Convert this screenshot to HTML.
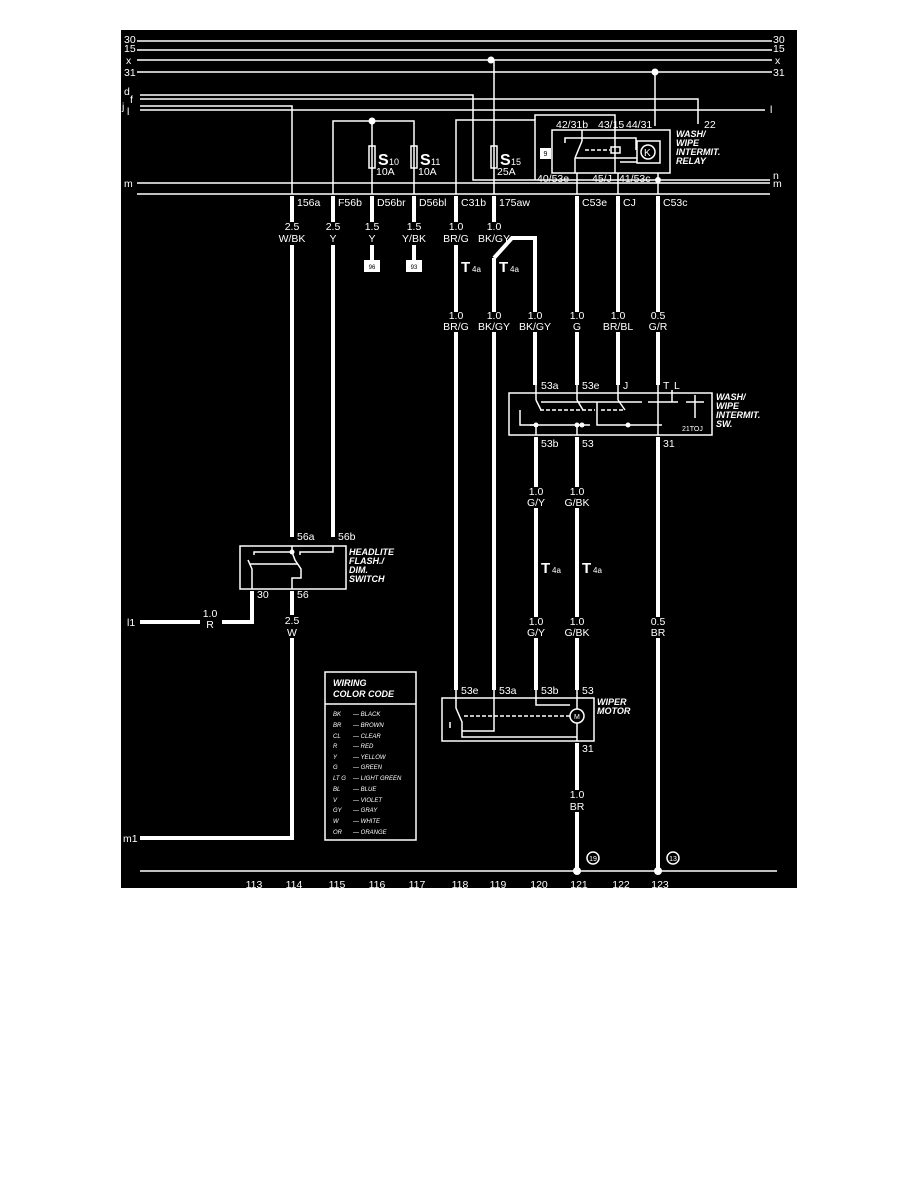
<!DOCTYPE html>
<html><head><meta charset="utf-8"><style>
html,body{margin:0;padding:0;background:#fff;}
svg{display:block;}
text{font-family:"Liberation Sans",sans-serif;fill:#fff;font-size:10.5px;}
.i{font-style:italic;font-weight:bold;font-size:9px;}
.s{font-size:6px;font-style:italic;}
</style></head><body>
<svg width="918" height="1188" viewBox="0 0 918 1188" xmlns="http://www.w3.org/2000/svg">
<rect x="0" y="0" width="918" height="1188" fill="#fff"/>
<rect x="121" y="30" width="676" height="858" fill="#000"/>
<g stroke="#fff" fill="none" stroke-width="1.5">
<!-- bus lines -->
<line x1="137" y1="41" x2="772" y2="41"/>
<line x1="137" y1="50" x2="772" y2="50"/>
<line x1="137" y1="60" x2="772" y2="60"/>
<line x1="137" y1="72" x2="772" y2="72"/>
<polyline points="140,95 473,95 473,180 770,180"/>
<polyline points="140,99 698,99 698,124"/>
<polyline points="140,106 292,106 292,194"/>
<line x1="140" y1="110" x2="765" y2="110"/>
<polyline points="456,194 456,120 535,120 535,180"/>
<polyline points="535,120 535,115 615,115 615,126"/>
<line x1="137" y1="183" x2="770" y2="183"/>
<line x1="137" y1="194" x2="770" y2="194"/>
<!-- fuses -->
<polyline points="333,194 333,121 414,121 414,194"/>
<line x1="372" y1="121" x2="372" y2="194"/>
<line x1="494" y1="60" x2="494" y2="194"/>
<line x1="655" y1="72" x2="655" y2="126"/>
<line x1="577" y1="173" x2="577" y2="194"/>
<line x1="618" y1="173" x2="618" y2="194"/>
<line x1="658" y1="173" x2="658" y2="194"/>
<rect x="369" y="146" width="6" height="22"/>
<rect x="411" y="146" width="6" height="22"/>
<rect x="491" y="146" width="6" height="22"/>
<!-- relay -->
<rect x="552" y="130" width="118" height="43"/>
<rect x="637" y="141" width="23" height="22"/>
<circle cx="648" cy="152" r="7"/>
<polyline points="565,143 565,138 636,138 636,150"/>
<line x1="582" y1="130" x2="582" y2="141"/>
<line x1="582" y1="141" x2="575" y2="158"/>
<line x1="575" y1="158" x2="575" y2="173"/>
<line x1="575" y1="158" x2="637" y2="158"/>
<line x1="585" y1="150" x2="610" y2="150" stroke-dasharray="4,2"/>
<rect x="611" y="147" width="9" height="6"/>
<line x1="615" y1="126" x2="615" y2="173"/>
<polyline points="620,162 637,162"/>
<!-- switch box -->
<rect x="509" y="393" width="203" height="42"/>
<line x1="536" y1="385" x2="536" y2="400"/>
<line x1="536" y1="400" x2="541" y2="410"/>
<line x1="577" y1="385" x2="577" y2="400"/>
<line x1="577" y1="400" x2="583" y2="410"/>
<line x1="618" y1="385" x2="618" y2="400"/>
<line x1="618" y1="400" x2="625" y2="410"/>
<line x1="541" y1="402" x2="642" y2="402"/>
<line x1="540" y1="410" x2="595" y2="410" stroke-dasharray="4,2"/>
<line x1="601" y1="410" x2="625" y2="410" stroke-dasharray="4,2"/>
<polyline points="520,410 520,425 536,425 536,435"/>
<line x1="530" y1="425" x2="590" y2="425"/>
<line x1="577" y1="425" x2="577" y2="435"/>
<polyline points="597,402 597,425 662,425"/>
<line x1="648" y1="402" x2="678" y2="402"/>
<line x1="658" y1="385" x2="658" y2="402"/>
<line x1="672" y1="390" x2="672" y2="402"/>
<line x1="658" y1="402" x2="658" y2="435"/>
<line x1="686" y1="402" x2="704" y2="402"/>
<line x1="695" y1="395" x2="695" y2="418"/>
<!-- headlight switch -->
<rect x="240" y="546" width="106" height="43"/>
<polyline points="252,589 252,569 248,560"/>
<line x1="250" y1="564" x2="298" y2="564"/>
<polyline points="254,555 254,552 292,552 292,546"/>
<polyline points="292,552 295,560 301,569 301,578 292,578 292,589"/>
<polyline points="300,555 300,552 333,552 333,546"/>
<!-- legend -->
<rect x="325" y="672" width="91" height="168"/>
<line x1="325" y1="704" x2="416" y2="704"/>
<!-- wiper motor -->
<rect x="442" y="698" width="152" height="43"/>
<polyline points="456,690 456,708 462,722 462,737 577,737"/>
<polyline points="450,728 450,722"/>
<polyline points="494,690 494,731 462,731"/>
<polyline points="536,690 536,705 570,705"/>
<line x1="464" y1="716" x2="570" y2="716" stroke-dasharray="4,2"/>
<circle cx="577" cy="716" r="7"/>
<line x1="577" y1="690" x2="577" y2="709"/>
<line x1="577" y1="723" x2="577" y2="741"/>
<!-- ground -->
<line x1="140" y1="871" x2="777" y2="871"/>
<circle cx="593" cy="858" r="6"/>
<circle cx="673" cy="858" r="6"/>
</g>
<!-- thick wires -->
<g stroke="#fff" stroke-width="4" fill="none">
<line x1="292" y1="196" x2="292" y2="222"/><line x1="292" y1="245" x2="292" y2="537"/>
<line x1="333" y1="196" x2="333" y2="222"/><line x1="333" y1="245" x2="333" y2="537"/>
<line x1="372" y1="196" x2="372" y2="222"/><line x1="372" y1="245" x2="372" y2="260"/>
<line x1="414" y1="196" x2="414" y2="222"/><line x1="414" y1="245" x2="414" y2="260"/>
<line x1="456" y1="196" x2="456" y2="222"/><line x1="456" y1="245" x2="456" y2="312"/><line x1="456" y1="332" x2="456" y2="690"/>
<line x1="494" y1="196" x2="494" y2="222"/><line x1="494" y1="258" x2="494" y2="312"/><line x1="494" y1="332" x2="494" y2="690"/>
<polyline points="494,258 512,238 535,238 535,312"/><line x1="535" y1="332" x2="535" y2="385"/>
<line x1="577" y1="196" x2="577" y2="312"/><line x1="577" y1="332" x2="577" y2="385"/>
<line x1="618" y1="196" x2="618" y2="312"/><line x1="618" y1="332" x2="618" y2="385"/>
<line x1="658" y1="196" x2="658" y2="312"/><line x1="658" y1="332" x2="658" y2="385"/>
<line x1="536" y1="437" x2="536" y2="487"/><line x1="536" y1="508" x2="536" y2="617"/><line x1="536" y1="638" x2="536" y2="690"/>
<line x1="577" y1="437" x2="577" y2="487"/><line x1="577" y1="508" x2="577" y2="617"/><line x1="577" y1="638" x2="577" y2="690"/>
<line x1="658" y1="437" x2="658" y2="617"/><line x1="658" y1="638" x2="658" y2="871"/>
<line x1="577" y1="743" x2="577" y2="790"/><line x1="577" y1="812" x2="577" y2="871"/>
<polyline points="252,591 252,622 222,622"/><line x1="200" y1="622" x2="140" y2="622"/>
<line x1="292" y1="591" x2="292" y2="615"/><polyline points="292,638 292,838 140,838"/>
</g>
<g fill="#fff">
<circle cx="491" cy="60" r="3.5"/><circle cx="655" cy="72" r="3.5"/><circle cx="372" cy="121" r="3.5"/>
<circle cx="658" cy="180" r="3"/><circle cx="577" cy="871" r="4"/><circle cx="658" cy="871" r="4"/>
<circle cx="536" cy="425" r="2.5"/><circle cx="577" cy="425" r="2.5"/><circle cx="582" cy="425" r="2.5"/><circle cx="628" cy="425" r="2.5"/>
<circle cx="292" cy="552" r="2.5"/>
<rect x="364" y="260" width="16" height="12"/><rect x="406" y="260" width="16" height="12"/>
<rect x="540" y="148" width="11" height="11"/>
</g>
<g font-size="6" text-anchor="middle">
<text x="372" y="269" style="fill:#000;font-size:6px">96</text>
<text x="414" y="269" style="fill:#000;font-size:6px">93</text>
<text x="545.5" y="156" style="fill:#000;font-size:7px">9</text>
</g>
<!-- bus labels -->
<text x="124" y="43">30</text><text x="124" y="52">15</text><text x="126" y="64">x</text><text x="124" y="76">31</text>
<text x="773" y="43">30</text><text x="773" y="52">15</text><text x="775" y="64">x</text><text x="773" y="76">31</text>
<text x="124" y="95">d</text><text x="130" y="103">f</text><text x="122" y="110">j</text><text x="127" y="115">l</text>
<text x="770" y="113">l</text><text x="773" y="179">n</text><text x="773" y="187">m</text><text x="124" y="187">m</text>
<text x="704" y="128">22</text>
<text x="378" y="165" style="font-size:16px;font-weight:bold">S</text><text x="389" y="165" style="font-size:9px">10</text><text x="376" y="175">10A</text>
<text x="420" y="165" style="font-size:16px;font-weight:bold">S</text><text x="431" y="165" style="font-size:9px">11</text><text x="418" y="175">10A</text>
<text x="500" y="165" style="font-size:16px;font-weight:bold">S</text><text x="511" y="165" style="font-size:9px">15</text><text x="497" y="175">25A</text>
<text x="556" y="128">42/31b</text><text x="598" y="128">43/15</text><text x="626" y="128">44/31</text>
<text x="537" y="182">40/53e</text><text x="592" y="182">45/J</text><text x="619" y="182">41/53c</text>
<text x="644" y="156" style="font-size:10px">K</text>
<text class="i" x="676" y="137">WASH/</text><text class="i" x="676" y="146">WIPE</text><text class="i" x="676" y="155">INTERMIT.</text><text class="i" x="676" y="164">RELAY</text>
<text x="297" y="206">156a</text><text x="338" y="206">F56b</text><text x="377" y="206">D56br</text><text x="419" y="206">D56bl</text>
<text x="461" y="206">C31b</text><text x="499" y="206">175aw</text><text x="582" y="206">C53e</text><text x="623" y="206">CJ</text><text x="663" y="206">C53c</text>
<g text-anchor="middle">
<text x="292" y="230">2.5</text><text x="292" y="242">W/BK</text>
<text x="333" y="230">2.5</text><text x="333" y="242">Y</text>
<text x="372" y="230">1.5</text><text x="372" y="242">Y</text>
<text x="414" y="230">1.5</text><text x="414" y="242">Y/BK</text>
<text x="456" y="230">1.0</text><text x="456" y="242">BR/G</text>
<text x="494" y="230">1.0</text><text x="494" y="242">BK/GY</text>
<text x="456" y="319">1.0</text><text x="456" y="330">BR/G</text>
<text x="494" y="319">1.0</text><text x="494" y="330">BK/GY</text>
<text x="535" y="319">1.0</text><text x="535" y="330">BK/GY</text>
<text x="577" y="319">1.0</text><text x="577" y="330">G</text>
<text x="618" y="319">1.0</text><text x="618" y="330">BR/BL</text>
<text x="658" y="319">0.5</text><text x="658" y="330">G/R</text>
<text x="536" y="495">1.0</text><text x="536" y="506">G/Y</text>
<text x="577" y="495">1.0</text><text x="577" y="506">G/BK</text>
<text x="536" y="625">1.0</text><text x="536" y="636">G/Y</text>
<text x="577" y="625">1.0</text><text x="577" y="636">G/BK</text>
<text x="658" y="625">0.5</text><text x="658" y="636">BR</text>
<text x="292" y="624">2.5</text><text x="292" y="636">W</text>
<text x="210" y="617">1.0</text><text x="210" y="628">R</text>
<text x="577" y="798">1.0</text><text x="577" y="810">BR</text>
<text x="593" y="861" style="font-size:7px">19</text><text x="673" y="861" style="font-size:7px">13</text>
<text x="254" y="888">113</text><text x="294" y="888">114</text><text x="337" y="888">115</text><text x="377" y="888">116</text>
<text x="417" y="888">117</text><text x="460" y="888">118</text><text x="498" y="888">119</text><text x="539" y="888">120</text>
<text x="579" y="888">121</text><text x="621" y="888">122</text><text x="660" y="888">123</text>
</g>
<text x="461" y="272" style="font-size:15px;font-weight:bold">T</text><text x="472" y="272" style="font-size:8px">4a</text>
<text x="499" y="272" style="font-size:15px;font-weight:bold">T</text><text x="510" y="272" style="font-size:8px">4a</text>
<text x="541" y="573" style="font-size:15px;font-weight:bold">T</text><text x="552" y="573" style="font-size:8px">4a</text>
<text x="582" y="573" style="font-size:15px;font-weight:bold">T</text><text x="593" y="573" style="font-size:8px">4a</text>
<text x="541" y="389">53a</text><text x="582" y="389">53e</text><text x="623" y="389">J</text><text x="663" y="389">T</text><text x="674" y="389">L</text>
<text x="541" y="447">53b</text><text x="582" y="447">53</text><text x="663" y="447">31</text>
<text x="682" y="431" style="font-size:7px">21TOJ</text>
<text class="i" x="716" y="400">WASH/</text><text class="i" x="716" y="409">WIPE</text><text class="i" x="716" y="418">INTERMIT.</text><text class="i" x="716" y="427">SW.</text>
<text x="297" y="540">56a</text><text x="338" y="540">56b</text>
<text x="257" y="598">30</text><text x="297" y="598">56</text>
<text class="i" x="349" y="555">HEADLITE</text><text class="i" x="349" y="564">FLASH./</text><text class="i" x="349" y="573">DIM.</text><text class="i" x="349" y="582">SWITCH</text>
<text x="127" y="626">l1</text><text x="123" y="842">m1</text>
<text x="461" y="694">53e</text><text x="499" y="694">53a</text><text x="541" y="694">53b</text><text x="582" y="694">53</text>
<text x="582" y="752">31</text><text x="574" y="719" style="font-size:7px">M</text>
<text class="i" x="597" y="705">WIPER</text><text class="i" x="597" y="714">MOTOR</text>
<text class="i" x="333" y="686">WIRING</text><text class="i" x="333" y="697">COLOR CODE</text>
<g class="s">
<text class="s" x="333" y="716">BK</text><text class="s" x="353" y="716">— BLACK</text>
<text class="s" x="333" y="727">BR</text><text class="s" x="353" y="727">— BROWN</text>
<text class="s" x="333" y="738">CL</text><text class="s" x="353" y="738">— CLEAR</text>
<text class="s" x="333" y="748">R</text><text class="s" x="353" y="748">— RED</text>
<text class="s" x="333" y="759">Y</text><text class="s" x="353" y="759">— YELLOW</text>
<text class="s" x="333" y="769">G</text><text class="s" x="353" y="769">— GREEN</text>
<text class="s" x="333" y="780">LT G</text><text class="s" x="353" y="780">— LIGHT GREEN</text>
<text class="s" x="333" y="791">BL</text><text class="s" x="353" y="791">— BLUE</text>
<text class="s" x="333" y="802">V</text><text class="s" x="353" y="802">— VIOLET</text>
<text class="s" x="333" y="812">GY</text><text class="s" x="353" y="812">— GRAY</text>
<text class="s" x="333" y="823">W</text><text class="s" x="353" y="823">— WHITE</text>
<text class="s" x="333" y="834">OR</text><text class="s" x="353" y="834">— ORANGE</text>
</g>
</svg>
</body></html>
